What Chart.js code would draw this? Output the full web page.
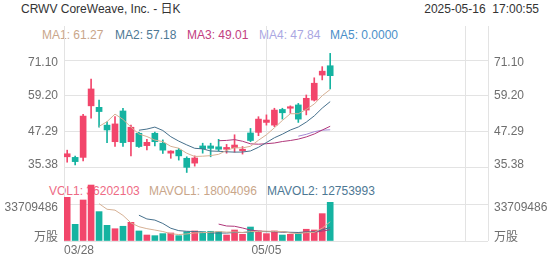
<!DOCTYPE html>
<html><head><meta charset="utf-8">
<script src="https://cdn.jsdelivr.net/npm/chart.js@4/dist/chart.umd.min.js"></script>
<style>
html,body{margin:0;padding:0;background:#fff;width:552px;height:265px;overflow:hidden;font-family:"Liberation Sans",Arial,"Noto Sans CJK SC",sans-serif;}
#wrap{position:relative;width:552px;height:265px;}
canvas{position:absolute;left:0;top:0;}
.t{position:absolute;font-size:12px;white-space:nowrap;line-height:14px;}
</style></head><body>
<div id="wrap">
<div class="t" style="left:21px;top:2px;color:#333">CRWV CoreWeave, Inc. - 日K</div>
<div class="t" style="right:13px;top:2px;color:#333">2025-05-16&nbsp;&nbsp;17:00:55</div>
<div id="maLegend"></div>
<div id="volLegend"></div>
<canvas id="vol" width="552" height="265"></canvas>
<canvas id="price" width="552" height="265"></canvas>
</div>
<script>
// ---- data ----
const dates = ["03/28","03/31","04/01","04/02","04/03","04/04","04/07","04/08","04/09","04/10","04/11","04/14","04/15","04/16","04/17","04/21","04/22","04/23","04/24","04/25","04/28","04/29","04/30","05/01","05/02","05/05","05/06","05/07","05/08","05/09","05/12","05/13","05/14","05/15"];
const opens  = [39.0,38.8,38.8,55.9,55.4,49.5,44.0,54.2,44.0,46.8,42.7,46.8,43.5,40.2,41.2,38.5,36.9,42.6,42.6,42.3,41.5,42.0,41.0,46.9,47.1,50.4,49.5,54.7,55.1,56.2,54.5,57.8,66.1,69.2];
const highs  = [41.2,39.2,53.1,64.8,57.8,50.6,52.3,55.1,49.5,47.1,44.8,47.2,44.6,41.0,41.8,39.0,39.3,43.5,43.5,44.8,43.1,46.3,42.4,48.4,52.3,52.9,55.1,55.1,55.9,56.7,59.5,65.2,68.9,73.3];
const lows   = [37.2,36.3,37.6,51.8,48.8,43.7,42.4,42.4,39.3,42.1,41.3,42.6,40.1,38.5,37.9,33.8,35.9,40.2,39.0,40.9,40.2,40.5,39.9,44.0,46.0,49.5,49.0,51.5,53.4,50.4,52.9,57.5,64.5,61.5];
const closes = [40.0,37.4,52.5,61.5,54.0,47.9,49.9,43.7,48.8,42.4,43.8,44.0,41.2,40.9,39.3,35.5,38.6,41.7,41.8,41.5,42.1,42.9,41.5,44.4,51.5,51.2,54.5,53.6,55.6,51.5,58.4,63.4,67.4,65.9];
const ma1 = [null,null,null,null,49.08,50.66,53.16,51.40,48.86,46.54,45.72,44.54,44.04,42.46,41.84,40.18,39.10,39.20,39.38,39.82,41.14,42.00,41.96,42.48,44.48,46.30,48.62,51.04,53.28,53.28,54.72,56.50,59.26,61.32];
const ma2 = [null,null,null,null,null,null,null,null,null,47.81,48.19,48.85,47.72,45.66,44.19,42.95,41.82,41.62,40.92,40.83,40.66,40.55,40.58,40.93,42.15,43.72,45.31,46.50,47.88,48.88,50.51,52.56,55.15,57.30];
const ma3 = [null,null,null,null,null,null,null,null,null,null,null,null,null,null,null,null,null,null,null,44.32,44.43,44.70,44.15,43.30,43.17,43.34,43.57,44.06,44.40,44.86,45.59,46.56,47.87,49.12];
const ma4 = [null,null,null,null,null,null,null,null,null,null,null,null,null,null,null,null,null,null,null,null,null,null,null,null,null,null,null,null,null,45.84,46.45,47.32,47.82,47.96];
// volumes in millions of shares
const volumes = [40.9,15.6,38.4,52.4,27.5,14.7,11.5,13.8,17.5,9.4,5.6,5.0,6.9,7.5,5.0,8.7,9.4,8.7,9.1,8.7,5.6,10.3,6.3,13.1,9.4,6.9,9.4,5.6,6.3,6.9,11.0,10.3,25.62,36.202103];
const mavol1 = [null,null,null,null,34.96,29.72,28.90,23.98,17.00,13.38,11.56,10.26,8.88,6.88,6.00,6.62,7.50,7.86,8.18,8.92,8.30,8.48,8.00,8.80,8.94,9.20,9.02,8.88,7.52,7.02,7.84,8.02,12.02,18.00];
const mavol2 = [null,null,null,null,null,null,null,null,null,24.17,20.64,19.58,16.43,11.94,9.69,9.09,8.88,8.37,7.53,7.46,7.46,7.99,7.93,8.49,8.93,8.75,8.75,8.44,8.16,7.98,8.52,8.52,10.45,12.76];
const mavol3 = [null,null,null,null,null,null,null,null,null,null,null,null,null,null,null,null,null,null,null,15.82,14.05,13.79,12.18,10.22,9.31,8.92,8.82,8.41,7.85,7.72,7.99,8.26,9.19,10.63];
const priceTicks = [35.38, 47.29, 59.20, 71.10];
const priceTickLabels = ["35.38", "47.29", "59.20", "71.10"];
const volTicks = [0, 33.709486];
const volTickLabels = ["万股", "33709486"];
const xTickLabels = ["03/28", "05/05"];
const maNames = ["MA1", "MA2", "MA3", "MA4", "MA5"];
const maValues = ["61.27", "57.18", "49.01", "47.84", "0.0000"];
const volNames = ["VOL1", "MAVOL1", "MAVOL2"];
const volValues = ["36202103", "18004096", "12753993"];

// ---- styles ----
const UP = "#f2466b", DOWN = "#15b3a1";
const GRID = "#e3e3e3";
const maColors = ["#c9a68a", "#4d7894", "#c2407f", "#aaa7e2", "#4a8fc9"];
const maLineColors = ["#d6b094", "#46708c", "#b0377a", "#a58ad6", "#4a8fc9"];
const volColors = ["#ee6a84", "#c9a68a", "#4d7894"];
const FONT = '12px "Liberation Sans", Arial, "Noto Sans CJK SC", sans-serif';

function legend(el, names, vals, cols, xs, top) {
  names.forEach((n, i) => {
    const d = document.createElement('div');
    d.className = 't';
    d.style.left = xs[i] + 'px'; d.style.top = top + 'px'; d.style.color = cols[i];
    d.textContent = n + ': ' + vals[i];
    el.appendChild(d);
  });
}
legend(document.getElementById('maLegend'), maNames, maValues, maColors, [42, 115, 187, 259, 330], 28);
legend(document.getElementById('volLegend'), volNames, volValues, volColors, [49, 149, 267], 184);

const dirColors = closes.map((c, i) => c >= opens[i] ? UP : DOWN);
const pts = arr => arr.map((v, i) => ({x: i, y: v}));

const axisText = {
  id: 'axisText',
  afterDraw(chart, args, o) {
    const {ctx, chartArea: a} = chart;
    const ys = chart.scales.y, xs = chart.scales.x;
    ctx.save();
    ctx.font = FONT; ctx.fillStyle = '#6e6e6e'; ctx.textBaseline = 'middle';
    const hi = Math.max(...o.values), lo = Math.min(...o.values);
    o.values.forEach((v, i) => {
      let py = ys.getPixelForValue(v);
      if (v === hi) py += 3; else if (v === lo) py -= 3;
      ctx.textAlign = 'right'; ctx.fillText(o.labels[i], a.left - 6, py);
      ctx.textAlign = 'left'; ctx.fillText(o.labels[i], a.right + 6, py);
    });
    if (o.xLabels) {
      ctx.textAlign = 'left';
      o.xLabels.forEach(l => {
        const px = xs.getPixelForValue(dates.indexOf(l));
        const w = ctx.measureText(l).width;
        ctx.fillText(l, Math.max(a.left, px - w / 2), a.bottom + 10);
      });
    }
    ctx.restore();
  }
};

function xScale() {
  return {
    type: 'linear', min: -0.4, max: 52.8, offset: false, bounds: 'ticks',
    afterFit(s) { s.height = 0; },
    afterBuildTicks(s) { s.ticks = [s.min, 25, 50, s.max].map(v => ({value: v})); },
    ticks: {display: false},
    grid: {color: GRID, drawTicks: false, lineWidth: 1, offset: false},
    border: {display: false}
  };
}
function yScale(min, max, vals) {
  return {
    min, max,
    afterFit(s) { s.width = 0; },
    afterBuildTicks(s) { s.ticks = vals.map(v => ({value: v})); },
    ticks: {display: false},
    grid: {color: GRID, drawTicks: false, lineWidth: 1},
    border: {display: false}
  };
}
const lineDs = (data, color) => ({type: 'line', data: pts(data), borderColor: color, borderWidth: 1, pointRadius: 0, fill: false, tension: 0, order: 0});
const base = {responsive: false, animation: false, devicePixelRatio: 1,
  plugins: {legend: {display: false}, tooltip: {enabled: false}}};

new Chart(document.getElementById('price'), {
  type: 'bar',
  data: {datasets: [
    lineDs(ma1, maLineColors[0]), lineDs(ma2, maLineColors[1]), lineDs(ma3, maLineColors[2]), lineDs(ma4, maLineColors[3]),
    {data: dates.map((d, i) => ({x: i, y: [opens[i], closes[i]]})), backgroundColor: dirColors, barThickness: 6, grouped: false, minBarLength: 1, order: 1},
    {data: dates.map((d, i) => ({x: i, y: [lows[i], highs[i]]})), backgroundColor: dirColors, barThickness: 1, grouped: false, order: 2}
  ]},
  options: Object.assign({}, base, {
    layout: {padding: {left: 64, right: 64, top: 26, bottom: 85}},
    scales: {x: xScale(), y: yScale(31.30, 82.38, priceTicks)},
    plugins: Object.assign({}, base.plugins, {axisText: {values: priceTicks, labels: priceTickLabels}})
  }),
  plugins: [axisText]
});

new Chart(document.getElementById('vol'), {
  type: 'bar',
  data: {datasets: [
    lineDs(mavol1, maLineColors[0]), lineDs(mavol2, maLineColors[1]), lineDs(mavol3, maLineColors[2]),
    {data: pts(volumes), backgroundColor: dirColors, barThickness: 6, grouped: false, order: 1}
  ]},
  options: Object.assign({}, base, {
    layout: {padding: {left: 64, right: 64, top: 180, bottom: 24}},
    scales: {x: xScale(), y: yScale(0, 57.1188, volTicks)},
    plugins: Object.assign({}, base.plugins, {axisText: {values: volTicks, labels: volTickLabels, xLabels: xTickLabels}})
  }),
  plugins: [axisText]
});
</script>
</body></html>
